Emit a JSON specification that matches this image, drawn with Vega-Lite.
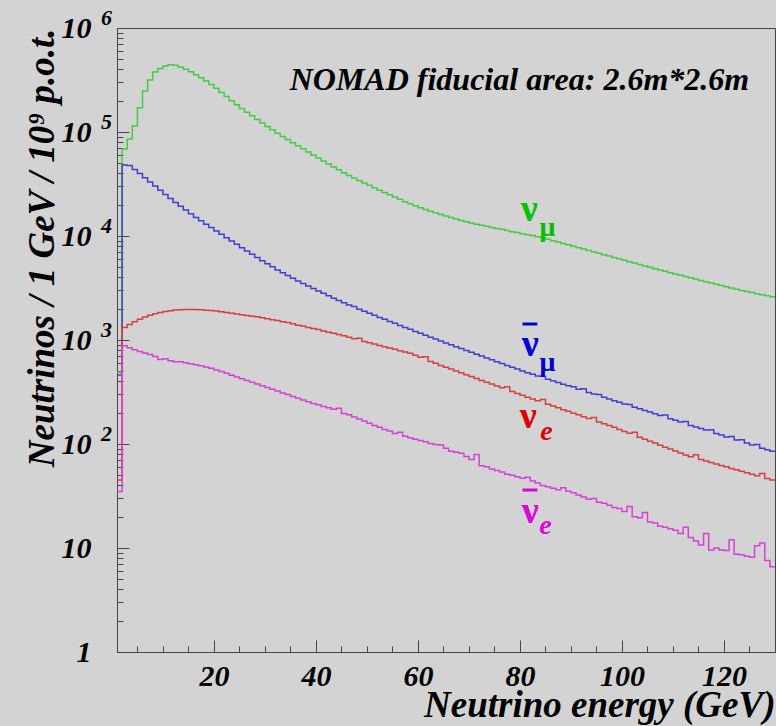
{
"$schema": "https://vega.github.io/schema/vega-lite/v6.json",
"width": 658, "height": 624,
"autosize": {"type": "none"},
"padding": {"left": 117, "top": 28, "right": 1, "bottom": 74},
"background": "#d3d3d3",
"config": {
 "view": {"fill": "#d3d3d3", "stroke": "#444", "strokeWidth": 1},
 "axis": {"domainColor": "#444", "tickColor": "#444", "labelFont": "Liberation Serif", "labelFontStyle": "italic", "labelFontWeight": "bold", "labelColor": "#000", "titleFont": "Liberation Serif", "titleFontStyle": "italic", "titleFontWeight": "bold", "titleColor": "#000", "grid": false, "labelOverlap": false}
},
"datasets": {
"h": [
{"s":"numu","e":1,"v":490},{"s":"numu","e":2,"v":68700},{"s":"numu","e":3,"v":85700},{"s":"numu","e":4,"v":114000},{"s":"numu","e":5,"v":171000},{"s":"numu","e":6,"v":248000},{"s":"numu","e":7,"v":316000},{"s":"numu","e":8,"v":378000},{"s":"numu","e":9,"v":409000},{"s":"numu","e":10,"v":432000},
{"s":"numu","e":11,"v":444000},{"s":"numu","e":12,"v":438000},{"s":"numu","e":13,"v":419000},{"s":"numu","e":14,"v":401000},{"s":"numu","e":15,"v":380000},{"s":"numu","e":16,"v":356000},{"s":"numu","e":17,"v":333000},{"s":"numu","e":18,"v":310000},{"s":"numu","e":19,"v":287000},{"s":"numu","e":20,"v":263000},
{"s":"numu","e":21,"v":240000},{"s":"numu","e":22,"v":219000},{"s":"numu","e":23,"v":200000},{"s":"numu","e":24,"v":183000},{"s":"numu","e":25,"v":168000},{"s":"numu","e":26,"v":155000},{"s":"numu","e":27,"v":143000},{"s":"numu","e":28,"v":132000},{"s":"numu","e":29,"v":122000},{"s":"numu","e":30,"v":113000},
{"s":"numu","e":31,"v":105000},{"s":"numu","e":32,"v":97300},{"s":"numu","e":33,"v":90600},{"s":"numu","e":34,"v":84500},{"s":"numu","e":35,"v":78900},{"s":"numu","e":36,"v":73800},{"s":"numu","e":37,"v":68900},{"s":"numu","e":38,"v":64300},{"s":"numu","e":39,"v":60100},{"s":"numu","e":40,"v":56200},
{"s":"numu","e":41,"v":52600},{"s":"numu","e":42,"v":49200},{"s":"numu","e":43,"v":46100},{"s":"numu","e":44,"v":43300},{"s":"numu","e":45,"v":40600},{"s":"numu","e":46,"v":38200},{"s":"numu","e":47,"v":36100},{"s":"numu","e":48,"v":34100},{"s":"numu","e":49,"v":32400},{"s":"numu","e":50,"v":30700},
{"s":"numu","e":51,"v":29100},{"s":"numu","e":52,"v":27600},{"s":"numu","e":53,"v":26200},{"s":"numu","e":54,"v":24900},{"s":"numu","e":55,"v":23700},{"s":"numu","e":56,"v":22500},{"s":"numu","e":57,"v":21400},{"s":"numu","e":58,"v":20400},{"s":"numu","e":59,"v":19500},{"s":"numu","e":60,"v":18700},
{"s":"numu","e":61,"v":18000},{"s":"numu","e":62,"v":17300},{"s":"numu","e":63,"v":16700},{"s":"numu","e":64,"v":16100},{"s":"numu","e":65,"v":15600},{"s":"numu","e":66,"v":15100},{"s":"numu","e":67,"v":14600},{"s":"numu","e":68,"v":14100},{"s":"numu","e":69,"v":13700},{"s":"numu","e":70,"v":13300},
{"s":"numu","e":71,"v":13000},{"s":"numu","e":72,"v":12700},{"s":"numu","e":73,"v":12400},{"s":"numu","e":74,"v":12100},{"s":"numu","e":75,"v":11800},{"s":"numu","e":76,"v":11600},{"s":"numu","e":77,"v":11300},{"s":"numu","e":78,"v":11000},{"s":"numu","e":79,"v":10800},{"s":"numu","e":80,"v":10500},
{"s":"numu","e":81,"v":10300},{"s":"numu","e":82,"v":10100},{"s":"numu","e":83,"v":9840},{"s":"numu","e":84,"v":9600},{"s":"numu","e":85,"v":9310},{"s":"numu","e":86,"v":9020},{"s":"numu","e":87,"v":8750},{"s":"numu","e":88,"v":8470},{"s":"numu","e":89,"v":8220},{"s":"numu","e":90,"v":7960},
{"s":"numu","e":91,"v":7730},{"s":"numu","e":92,"v":7480},{"s":"numu","e":93,"v":7260},{"s":"numu","e":94,"v":7030},{"s":"numu","e":95,"v":6820},{"s":"numu","e":96,"v":6610},{"s":"numu","e":97,"v":6410},{"s":"numu","e":98,"v":6210},{"s":"numu","e":99,"v":6030},{"s":"numu","e":100,"v":5830},
{"s":"numu","e":101,"v":5660},{"s":"numu","e":102,"v":5500},{"s":"numu","e":103,"v":5320},{"s":"numu","e":104,"v":5160},{"s":"numu","e":105,"v":5010},{"s":"numu","e":106,"v":4850},{"s":"numu","e":107,"v":4710},{"s":"numu","e":108,"v":4570},{"s":"numu","e":109,"v":4440},{"s":"numu","e":110,"v":4310},
{"s":"numu","e":111,"v":4190},{"s":"numu","e":112,"v":4070},{"s":"numu","e":113,"v":3960},{"s":"numu","e":114,"v":3850},{"s":"numu","e":115,"v":3740},{"s":"numu","e":116,"v":3640},{"s":"numu","e":117,"v":3540},{"s":"numu","e":118,"v":3440},{"s":"numu","e":119,"v":3340},{"s":"numu","e":120,"v":3250},
{"s":"numu","e":121,"v":3160},{"s":"numu","e":122,"v":3080},{"s":"numu","e":123,"v":3000},{"s":"numu","e":124,"v":2930},{"s":"numu","e":125,"v":2860},{"s":"numu","e":126,"v":2790},{"s":"numu","e":127,"v":2730},{"s":"numu","e":128,"v":2660},{"s":"numu","e":129,"v":2600},{"s":"numu","e":130,"v":2600},
{"s":"anumu","e":1,"v":460},{"s":"anumu","e":2,"v":48200},{"s":"anumu","e":3,"v":47600},{"s":"anumu","e":4,"v":43600},{"s":"anumu","e":5,"v":39800},{"s":"anumu","e":6,"v":36300},{"s":"anumu","e":7,"v":33100},{"s":"anumu","e":8,"v":30200},{"s":"anumu","e":9,"v":27500},{"s":"anumu","e":10,"v":25100},
{"s":"anumu","e":11,"v":22900},{"s":"anumu","e":12,"v":21000},{"s":"anumu","e":13,"v":19300},{"s":"anumu","e":14,"v":17800},{"s":"anumu","e":15,"v":16400},{"s":"anumu","e":16,"v":15100},{"s":"anumu","e":17,"v":14000},{"s":"anumu","e":18,"v":13000},{"s":"anumu","e":19,"v":12100},{"s":"anumu","e":20,"v":11200},
{"s":"anumu","e":21,"v":10400},{"s":"anumu","e":22,"v":9640},{"s":"anumu","e":23,"v":8950},{"s":"anumu","e":24,"v":8320},{"s":"anumu","e":25,"v":7730},{"s":"anumu","e":26,"v":7180},{"s":"anumu","e":27,"v":6680},{"s":"anumu","e":28,"v":6220},{"s":"anumu","e":29,"v":5790},{"s":"anumu","e":30,"v":5410},
{"s":"anumu","e":31,"v":5050},{"s":"anumu","e":32,"v":4720},{"s":"anumu","e":33,"v":4430},{"s":"anumu","e":34,"v":4160},{"s":"anumu","e":35,"v":3920},{"s":"anumu","e":36,"v":3700},{"s":"anumu","e":37,"v":3490},{"s":"anumu","e":38,"v":3300},{"s":"anumu","e":39,"v":3130},{"s":"anumu","e":40,"v":2960},
{"s":"anumu","e":41,"v":2810},{"s":"anumu","e":42,"v":2660},{"s":"anumu","e":43,"v":2520},{"s":"anumu","e":44,"v":2400},{"s":"anumu","e":45,"v":2280},{"s":"anumu","e":46,"v":2170},{"s":"anumu","e":47,"v":2100},{"s":"anumu","e":48,"v":1980},{"s":"anumu","e":49,"v":1890},{"s":"anumu","e":50,"v":1810},
{"s":"anumu","e":51,"v":1730},{"s":"anumu","e":52,"v":1650},{"s":"anumu","e":53,"v":1580},{"s":"anumu","e":54,"v":1510},{"s":"anumu","e":55,"v":1450},{"s":"anumu","e":56,"v":1380},{"s":"anumu","e":57,"v":1320},{"s":"anumu","e":58,"v":1270},{"s":"anumu","e":59,"v":1210},{"s":"anumu","e":60,"v":1160},
{"s":"anumu","e":61,"v":1110},{"s":"anumu","e":62,"v":1060},{"s":"anumu","e":63,"v":1020},{"s":"anumu","e":64,"v":977},{"s":"anumu","e":65,"v":938},{"s":"anumu","e":66,"v":899},{"s":"anumu","e":67,"v":863},{"s":"anumu","e":68,"v":828},{"s":"anumu","e":69,"v":794},{"s":"anumu","e":70,"v":762},
{"s":"anumu","e":71,"v":731},{"s":"anumu","e":72,"v":701},{"s":"anumu","e":73,"v":673},{"s":"anumu","e":74,"v":646},{"s":"anumu","e":75,"v":619},{"s":"anumu","e":76,"v":594},{"s":"anumu","e":77,"v":570},{"s":"anumu","e":78,"v":547},{"s":"anumu","e":79,"v":525},{"s":"anumu","e":80,"v":504},
{"s":"anumu","e":81,"v":485},{"s":"anumu","e":82,"v":468},{"s":"anumu","e":83,"v":451},{"s":"anumu","e":84,"v":448},{"s":"anumu","e":85,"v":420},{"s":"anumu","e":86,"v":405},{"s":"anumu","e":87,"v":390},{"s":"anumu","e":88,"v":376},{"s":"anumu","e":89,"v":363},{"s":"anumu","e":90,"v":356},
{"s":"anumu","e":91,"v":337},{"s":"anumu","e":92,"v":340},{"s":"anumu","e":93,"v":313},{"s":"anumu","e":94,"v":303},{"s":"anumu","e":95,"v":300},{"s":"anumu","e":96,"v":281},{"s":"anumu","e":97,"v":271},{"s":"anumu","e":98,"v":261},{"s":"anumu","e":99,"v":252},{"s":"anumu","e":100,"v":243},
{"s":"anumu","e":101,"v":240},{"s":"anumu","e":102,"v":226},{"s":"anumu","e":103,"v":218},{"s":"anumu","e":104,"v":210},{"s":"anumu","e":105,"v":203},{"s":"anumu","e":106,"v":195},{"s":"anumu","e":107,"v":188},{"s":"anumu","e":108,"v":190},{"s":"anumu","e":109,"v":175},{"s":"anumu","e":110,"v":169},
{"s":"anumu","e":111,"v":163},{"s":"anumu","e":112,"v":165},{"s":"anumu","e":113,"v":151},{"s":"anumu","e":114,"v":146},{"s":"anumu","e":115,"v":141},{"s":"anumu","e":116,"v":136},{"s":"anumu","e":117,"v":137},{"s":"anumu","e":118,"v":126},{"s":"anumu","e":119,"v":122},{"s":"anumu","e":120,"v":117},
{"s":"anumu","e":121,"v":118},{"s":"anumu","e":122,"v":109},{"s":"anumu","e":123,"v":110},{"s":"anumu","e":124,"v":102},{"s":"anumu","e":125,"v":98},{"s":"anumu","e":126,"v":99},{"s":"anumu","e":127,"v":91},{"s":"anumu","e":128,"v":88},{"s":"anumu","e":129,"v":85},{"s":"anumu","e":130,"v":85},
{"s":"nue","e":1,"v":45},{"s":"nue","e":2,"v":1320},{"s":"nue","e":3,"v":1410},{"s":"nue","e":4,"v":1500},{"s":"nue","e":5,"v":1580},{"s":"nue","e":6,"v":1660},{"s":"nue","e":7,"v":1730},{"s":"nue","e":8,"v":1790},{"s":"nue","e":9,"v":1840},{"s":"nue","e":10,"v":1880},
{"s":"nue","e":11,"v":1910},{"s":"nue","e":12,"v":1940},{"s":"nue","e":13,"v":1950},{"s":"nue","e":14,"v":1970},{"s":"nue","e":15,"v":1970},{"s":"nue","e":16,"v":1960},{"s":"nue","e":17,"v":1950},{"s":"nue","e":18,"v":1930},{"s":"nue","e":19,"v":1920},{"s":"nue","e":20,"v":1900},
{"s":"nue","e":21,"v":1870},{"s":"nue","e":22,"v":1840},{"s":"nue","e":23,"v":1810},{"s":"nue","e":24,"v":1780},{"s":"nue","e":25,"v":1750},{"s":"nue","e":26,"v":1720},{"s":"nue","e":27,"v":1690},{"s":"nue","e":28,"v":1670},{"s":"nue","e":29,"v":1640},{"s":"nue","e":30,"v":1600},
{"s":"nue","e":31,"v":1570},{"s":"nue","e":32,"v":1540},{"s":"nue","e":33,"v":1500},{"s":"nue","e":34,"v":1470},{"s":"nue","e":35,"v":1430},{"s":"nue","e":36,"v":1390},{"s":"nue","e":37,"v":1360},{"s":"nue","e":38,"v":1320},{"s":"nue","e":39,"v":1290},{"s":"nue","e":40,"v":1260},
{"s":"nue","e":41,"v":1220},{"s":"nue","e":42,"v":1190},{"s":"nue","e":43,"v":1160},{"s":"nue","e":44,"v":1130},{"s":"nue","e":45,"v":1100},{"s":"nue","e":46,"v":1060},{"s":"nue","e":47,"v":1030},{"s":"nue","e":48,"v":1040},{"s":"nue","e":49,"v":970},{"s":"nue","e":50,"v":942},
{"s":"nue","e":51,"v":914},{"s":"nue","e":52,"v":887},{"s":"nue","e":53,"v":861},{"s":"nue","e":54,"v":838},{"s":"nue","e":55,"v":813},{"s":"nue","e":56,"v":789},{"s":"nue","e":57,"v":767},{"s":"nue","e":58,"v":745},{"s":"nue","e":59,"v":713},{"s":"nue","e":60,"v":681},
{"s":"nue","e":61,"v":690},{"s":"nue","e":62,"v":622},{"s":"nue","e":63,"v":596},{"s":"nue","e":64,"v":570},{"s":"nue","e":65,"v":547},{"s":"nue","e":66,"v":525},{"s":"nue","e":67,"v":504},{"s":"nue","e":68,"v":483},{"s":"nue","e":69,"v":463},{"s":"nue","e":70,"v":445},
{"s":"nue","e":71,"v":427},{"s":"nue","e":72,"v":409},{"s":"nue","e":73,"v":393},{"s":"nue","e":74,"v":377},{"s":"nue","e":75,"v":361},{"s":"nue","e":76,"v":347},{"s":"nue","e":77,"v":355},{"s":"nue","e":78,"v":319},{"s":"nue","e":79,"v":306},{"s":"nue","e":80,"v":294},
{"s":"nue","e":81,"v":282},{"s":"nue","e":82,"v":271},{"s":"nue","e":83,"v":261},{"s":"nue","e":84,"v":268},{"s":"nue","e":85,"v":241},{"s":"nue","e":86,"v":232},{"s":"nue","e":87,"v":223},{"s":"nue","e":88,"v":214},{"s":"nue","e":89,"v":206},{"s":"nue","e":90,"v":198},
{"s":"nue","e":91,"v":191},{"s":"nue","e":92,"v":183},{"s":"nue","e":93,"v":176},{"s":"nue","e":94,"v":180},{"s":"nue","e":95,"v":163},{"s":"nue","e":96,"v":157},{"s":"nue","e":97,"v":151},{"s":"nue","e":98,"v":145},{"s":"nue","e":99,"v":138},{"s":"nue","e":100,"v":132},
{"s":"nue","e":101,"v":127},{"s":"nue","e":102,"v":130},{"s":"nue","e":103,"v":116},{"s":"nue","e":104,"v":111},{"s":"nue","e":105,"v":106},{"s":"nue","e":106,"v":102},{"s":"nue","e":107,"v":97.5},{"s":"nue","e":108,"v":93.3},{"s":"nue","e":109,"v":89.3},{"s":"nue","e":110,"v":85.5},
{"s":"nue","e":111,"v":81.8},{"s":"nue","e":112,"v":78.3},{"s":"nue","e":113,"v":75.5},{"s":"nue","e":114,"v":79},{"s":"nue","e":115,"v":70.8},{"s":"nue","e":116,"v":68.5},{"s":"nue","e":117,"v":66.4},{"s":"nue","e":118,"v":64.3},{"s":"nue","e":119,"v":62.2},{"s":"nue","e":120,"v":60.3},
{"s":"nue","e":121,"v":58.2},{"s":"nue","e":122,"v":56.4},{"s":"nue","e":123,"v":54.6},{"s":"nue","e":124,"v":52.8},{"s":"nue","e":125,"v":51.2},{"s":"nue","e":126,"v":49.5},{"s":"nue","e":127,"v":52},{"s":"nue","e":128,"v":46.5},{"s":"nue","e":129,"v":45},{"s":"nue","e":130,"v":45},
{"s":"anue","e":1,"v":35},{"s":"anue","e":2,"v":881},{"s":"anue","e":3,"v":841},{"s":"anue","e":4,"v":807},{"s":"anue","e":5,"v":776},{"s":"anue","e":6,"v":748},{"s":"anue","e":7,"v":724},{"s":"anue","e":8,"v":695},{"s":"anue","e":9,"v":649},{"s":"anue","e":10,"v":661},
{"s":"anue","e":11,"v":631},{"s":"anue","e":12,"v":619},{"s":"anue","e":13,"v":617},{"s":"anue","e":14,"v":605},{"s":"anue","e":15,"v":592},{"s":"anue","e":16,"v":578},{"s":"anue","e":17,"v":565},{"s":"anue","e":18,"v":550},{"s":"anue","e":19,"v":535},{"s":"anue","e":20,"v":516},
{"s":"anue","e":21,"v":497},{"s":"anue","e":22,"v":478},{"s":"anue","e":23,"v":459},{"s":"anue","e":24,"v":442},{"s":"anue","e":25,"v":425},{"s":"anue","e":26,"v":408},{"s":"anue","e":27,"v":393},{"s":"anue","e":28,"v":378},{"s":"anue","e":29,"v":363},{"s":"anue","e":30,"v":349},
{"s":"anue","e":31,"v":336},{"s":"anue","e":32,"v":323},{"s":"anue","e":33,"v":310},{"s":"anue","e":34,"v":299},{"s":"anue","e":35,"v":287},{"s":"anue","e":36,"v":276},{"s":"anue","e":37,"v":265},{"s":"anue","e":38,"v":255},{"s":"anue","e":39,"v":245},{"s":"anue","e":40,"v":238},
{"s":"anue","e":41,"v":230},{"s":"anue","e":42,"v":223},{"s":"anue","e":43,"v":216},{"s":"anue","e":44,"v":221},{"s":"anue","e":45,"v":197},{"s":"anue","e":46,"v":191},{"s":"anue","e":47,"v":182},{"s":"anue","e":48,"v":174},{"s":"anue","e":49,"v":166},{"s":"anue","e":50,"v":158},
{"s":"anue","e":51,"v":151},{"s":"anue","e":52,"v":145},{"s":"anue","e":53,"v":138},{"s":"anue","e":54,"v":133},{"s":"anue","e":55,"v":126},{"s":"anue","e":56,"v":130},{"s":"anue","e":57,"v":119},{"s":"anue","e":58,"v":115},{"s":"anue","e":59,"v":111},{"s":"anue","e":60,"v":108},
{"s":"anue","e":61,"v":105},{"s":"anue","e":62,"v":101},{"s":"anue","e":63,"v":98.9},{"s":"anue","e":64,"v":97.7},{"s":"anue","e":65,"v":91.2},{"s":"anue","e":66,"v":85.1},{"s":"anue","e":67,"v":83.2},{"s":"anue","e":68,"v":81.3},{"s":"anue","e":69,"v":75.9},{"s":"anue","e":70,"v":70.8},
{"s":"anue","e":71,"v":79.4},{"s":"anue","e":72,"v":61.7},{"s":"anue","e":73,"v":60.3},{"s":"anue","e":74,"v":57.5},{"s":"anue","e":75,"v":55.6},{"s":"anue","e":76,"v":53.7},{"s":"anue","e":77,"v":51.3},{"s":"anue","e":78,"v":50.1},{"s":"anue","e":79,"v":48.4},{"s":"anue","e":80,"v":46.8},
{"s":"anue","e":81,"v":47.9},{"s":"anue","e":82,"v":44.2},{"s":"anue","e":83,"v":42.2},{"s":"anue","e":84,"v":39.8},{"s":"anue","e":85,"v":38.9},{"s":"anue","e":86,"v":37.6},{"s":"anue","e":87,"v":36.3},{"s":"anue","e":88,"v":38.0},{"s":"anue","e":89,"v":35.1},{"s":"anue","e":90,"v":33.9},
{"s":"anue","e":91,"v":32.4},{"s":"anue","e":92,"v":30.9},{"s":"anue","e":93,"v":29.5},{"s":"anue","e":94,"v":29.9},{"s":"anue","e":95,"v":27.5},{"s":"anue","e":96,"v":26.9},{"s":"anue","e":97,"v":25.7},{"s":"anue","e":98,"v":24.5},{"s":"anue","e":99,"v":24.0},{"s":"anue","e":100,"v":22.4},
{"s":"anue","e":101,"v":25.1},{"s":"anue","e":102,"v":20.0},{"s":"anue","e":103,"v":19.5},{"s":"anue","e":104,"v":21.9},{"s":"anue","e":105,"v":17.8},{"s":"anue","e":106,"v":17.4},{"s":"anue","e":107,"v":16.2},{"s":"anue","e":108,"v":15.8},{"s":"anue","e":109,"v":15.3},{"s":"anue","e":110,"v":14.8},
{"s":"anue","e":111,"v":13.8},{"s":"anue","e":112,"v":15.8},{"s":"anue","e":113,"v":12.6},{"s":"anue","e":114,"v":11.7},{"s":"anue","e":115,"v":10.7},{"s":"anue","e":116,"v":13.8},{"s":"anue","e":117,"v":9.55},{"s":"anue","e":118,"v":10.0},{"s":"anue","e":119,"v":9.55},{"s":"anue","e":120,"v":9.44},
{"s":"anue","e":121,"v":12.0},{"s":"anue","e":122,"v":8.71},{"s":"anue","e":123,"v":8.61},{"s":"anue","e":124,"v":8.32},{"s":"anue","e":125,"v":8.13},{"s":"anue","e":126,"v":10.5},{"s":"anue","e":127,"v":11.2},{"s":"anue","e":128,"v":7.59},{"s":"anue","e":129,"v":6.61},{"s":"anue","e":130,"v":6.61}
],
"nu": [{"s":"numu","t":"ν","e":81.8,"v":17800},{"s":"anumu","t":"ν","e":82.0,"v":895},{"s":"nue","t":"ν","e":81.6,"v":182},{"s":"anue","t":"ν","e":82.0,"v":22.2}],
"mu": [{"s":"numu","t":"μ","e":85.4,"v":11900},{"s":"anumu","t":"μ","e":85.4,"v":601}],
"el": [{"s":"nue","t":"e","e":85.2,"v":130},{"s":"anue","t":"e","e":85.0,"v":16.3}],
"bars": [{"s":"anumu","e":80.5,"e2":83.4,"v":1425},{"s":"anue","e":80.5,"e2":83.4,"v":36.1}],
"note": [{"t":"NOMAD fiducial area: 2.6m*2.6m","e":79.9,"v":316000}]
},
"layer": [
{
 "data": {"name": "h"},
 "mark": {"type": "line", "interpolate": "step-after", "strokeWidth": 1.5, "clip": true},
 "encoding": {
  "x": {"field": "e", "type": "quantitative", "scale": {"domain": [1,130], "nice": false, "zero": false},
        "axis": {"orient": "bottom", "values": [20,40,60,80,100,120], "tickSize": -12, "labels": false, "title": null, "domain": true}},
  "y": {"field": "v", "type": "quantitative", "scale": {"type": "log", "domain": [1,1000000], "nice": false},
        "axis": {"orient": "left", "values": [1,10,100,1000,10000,100000,1000000], "tickSize": -12, "labels": false, "title": null, "domain": true}},
  "color": {"field": "s", "type": "nominal", "scale": {"domain": ["numu","anumu","nue","anue"], "range": ["#44cc44","#4040d0","#d84040","#d840d8"]}, "legend": null}
 }
},
{
 "data": {"name": "nu"},
 "mark": {"type": "text", "font": "Liberation Serif", "fontWeight": "bold", "fontSize": 38, "baseline": "middle", "align": "center"},
 "encoding": {
  "x": {"field": "e", "type": "quantitative", "scale": {"domain": [1,130], "nice": false, "zero": false},
        "axis": {"orient": "bottom", "values": [5,10,15,25,30,35,45,50,55,65,70,75,85,90,95,105,110,115,125], "tickSize": -6, "labels": false, "title": null, "domain": false}},
  "y": {"field": "v", "type": "quantitative", "scale": {"type": "log", "domain": [1,1000000], "nice": false},
        "axis": {"orient": "left", "values": [2,3,4,5,6,7,8,9,20,30,40,50,60,70,80,90,200,300,400,500,600,700,800,900,2000,3000,4000,5000,6000,7000,8000,9000,20000,30000,40000,50000,60000,70000,80000,90000,200000,300000,400000,500000,600000,700000,800000,900000], "tickSize": -6, "labels": false, "title": null, "domain": false}},
  "text": {"field": "t"},
  "color": {"field": "s", "type": "nominal", "scale": {"domain": ["numu","anumu","nue","anue"], "range": ["#00c000","#0000cc","#dd0000","#dd00dd"]}, "legend": null}
 }
},
{
 "data": {"name": "mu"},
 "mark": {"type": "text", "font": "Liberation Serif", "fontWeight": "bold", "fontSize": 28, "baseline": "middle", "align": "center"},
 "encoding": {
  "x": {"field": "e", "type": "quantitative", "scale": {"domain": [1,130], "nice": false, "zero": false},
        "axis": {"orient": "bottom", "values": [20,40,60,80,100,120], "ticks": false, "domain": false, "labelFontSize": 30, "labelPadding": 9, "title": "Neutrino energy (GeV)", "titleFontSize": 37, "titleAnchor": "end", "titlePadding": -4}},
  "y": {"field": "v", "type": "quantitative", "scale": {"type": "log", "domain": [1,1000000], "nice": false},
        "axis": {"orient": "left", "values": [1,10,100,1000,10000,100000,1000000], "ticks": false, "domain": false, "labelExpr": "datum.value == 1 ? '1' : '10'", "labelFontSize": 30, "labelPadding": 26, "labelBaseline": "middle", "title": "Neutrinos / 1 GeV / 10⁹ p.o.t.", "titleFontSize": 37, "titleAnchor": "end", "titlePadding": 0}},
  "text": {"field": "t"},
  "color": {"field": "s", "type": "nominal", "scale": {"domain": ["numu","anumu","nue","anue"], "range": ["#00c000","#0000cc","#dd0000","#dd00dd"]}, "legend": null}
 }
},
{
 "data": {"name": "el"},
 "mark": {"type": "text", "font": "Liberation Serif", "fontWeight": "bold", "fontStyle": "italic", "fontSize": 28, "baseline": "middle", "align": "center"},
 "encoding": {
  "x": {"field": "e", "type": "quantitative", "scale": {"domain": [1,130], "nice": false, "zero": false}, "axis": null},
  "y": {"field": "v", "type": "quantitative", "scale": {"type": "log", "domain": [1,1000000], "nice": false},
        "axis": {"orient": "left", "values": [100,1000,10000,100000,1000000], "ticks": false, "domain": false, "labelExpr": "'' + round(log(datum.value) / LN10)", "labelFontSize": 22, "labelAlign": "center", "labelBaseline": "middle", "labelPadding": 11, "labelOffset": -11, "title": null}},
  "text": {"field": "t"},
  "color": {"field": "s", "type": "nominal", "scale": {"domain": ["numu","anumu","nue","anue"], "range": ["#00c000","#0000cc","#dd0000","#dd00dd"]}, "legend": null}
 }
},
{
 "data": {"name": "bars"},
 "mark": {"type": "rule", "strokeWidth": 3},
 "encoding": {
  "x": {"field": "e", "type": "quantitative", "scale": {"domain": [1,130], "nice": false, "zero": false}, "axis": null},
  "x2": {"field": "e2"},
  "y": {"field": "v", "type": "quantitative", "scale": {"type": "log", "domain": [1,1000000], "nice": false}, "axis": null},
  "color": {"field": "s", "type": "nominal", "scale": {"domain": ["numu","anumu","nue","anue"], "range": ["#00c000","#0000cc","#dd0000","#dd00dd"]}, "legend": null}
 }
},
{
 "data": {"name": "note"},
 "mark": {"type": "text", "font": "Liberation Serif", "fontWeight": "bold", "fontStyle": "italic", "fontSize": 32, "baseline": "middle", "align": "center", "color": "#000"},
 "encoding": {
  "x": {"field": "e", "type": "quantitative", "scale": {"domain": [1,130], "nice": false, "zero": false}, "axis": null},
  "y": {"field": "v", "type": "quantitative", "scale": {"type": "log", "domain": [1,1000000], "nice": false}, "axis": null},
  "text": {"field": "t"}
 }
}
],
"resolve": {"axis": {"x": "independent", "y": "independent"}, "scale": {"color": "independent"}}
}
